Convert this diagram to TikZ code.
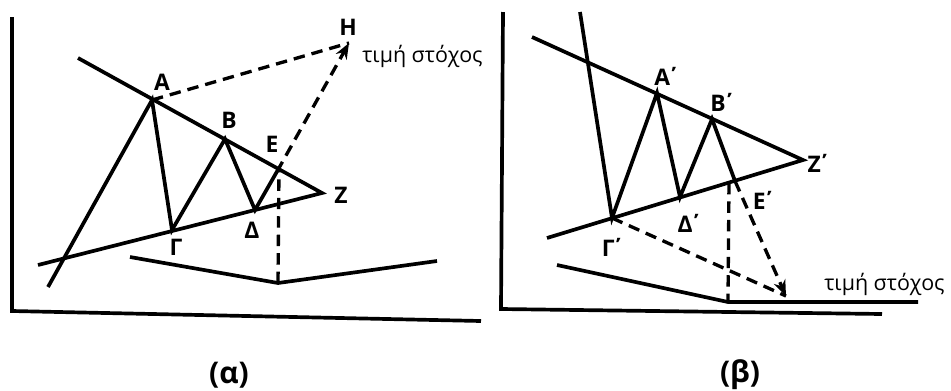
\documentclass[tikz,border=0pt]{standalone}
\usepackage{fontspec}
\setmainfont{Open Sans}
\usetikzlibrary{arrows.meta}

\begin{document}
\begin{tikzpicture}[x=0.02cm, y=-0.02cm,
    line/.style={line width=2.1pt, line join=miter},
    axis/.style={line width=2.1pt},
    proj/.style={line width=1.9pt, dash pattern=on 6.5pt off 4pt},
    tip/.style={-{Stealth[length=9pt, width=7pt]}},
    lbl/.style={font=\bfseries\fontsize{13}{15}\selectfont, inner sep=0pt},
    target/.style={font=\fontsize{12.2}{14}\selectfont, inner sep=0pt, anchor=west},
    figlabel/.style={font=\bfseries\fontsize{17}{19}\selectfont, inner sep=0pt}]
    \useasboundingbox (0,0) rectangle (951,390);

    % (a)
    \coordinate (a0) at (12,17);
    \coordinate (a1) at (12,311);
    \coordinate (a2) at (481,321);
    \draw[axis] (a0) -- (a1) -- (a2);
    \coordinate (u0) at (78,58);
    \coordinate (l0) at (38,265);
    \coordinate (s0) at (48,287);
    \coordinate (Z) at (322,193);
    \coordinate (A) at (152,100);
    \coordinate (B) at (225,139);
    \coordinate (E) at (279,168);
    \coordinate (G) at (172,230);
    \coordinate (D) at (255,210);
    \coordinate (H) at (349,43);
    \coordinate (v0) at (130,257);
    \coordinate (V) at (278,283);
    \coordinate (v1) at (437,261);
    \draw[line] (u0) -- (Z) -- (l0);
    \draw[line] (s0) -- (A) -- (G) -- (B) -- (D) -- (E);
    \draw[line] (v0) -- (V) -- (v1);
    \draw[proj] (A) -- (H);
    \draw[proj, tip] (V) -- (E) -- (H);
    \node[lbl] (lA) at (162,82) {Α};
    \node[lbl] (lB) at (229,120) {Β};
    \node[lbl] (lE) at (272,144) {Ε};
    \node[lbl] (lZ) at (341,195) {Ζ};
    \node[lbl] (lG) at (176,247) {Γ};
    \node[lbl] (lD) at (252,230) {Δ};
    \node[lbl] (lH) at (348,27) {Η};
    \node[target] (ta) at (362,56) {τιμή στόχος};
    \node[figlabel] (ca) at (229,375) {(α)};

    % (b)
    \coordinate (b0) at (503,12);
    \coordinate (b1) at (501,309);
    \coordinate (b2) at (882,314);
    \draw[axis] (b0) -- (b1) -- (b2);
    \coordinate (u1) at (532,37);
    \coordinate (l1) at (547,238);
    \coordinate (s1) at (580,12);
    \coordinate (Z1) at (803,160);
    \coordinate (A1) at (657,93);
    \coordinate (B1) at (712,119);
    \coordinate (E1) at (735,181);
    \coordinate (G1) at (612,218);
    \coordinate (D1) at (680,197);
    \coordinate (F1) at (729,183);
    \coordinate (T1) at (786,296);
    \coordinate (w0) at (557,265);
    \coordinate (V1) at (728,302);
    \coordinate (w1) at (918,302);
    \draw[line] (u1) -- (Z1) -- (l1);
    \draw[line] (s1) -- (G1) -- (A1) -- (D1) -- (B1) -- (E1);
    \draw[line] (w0) -- (V1) -- (w1);
    \draw[proj] (F1) -- (V1);
    \draw[proj] (G1) -- (T1);
    \draw[proj, tip] (E1) -- (T1);
    \node[lbl] (lA1) at (667,76) {Α\kern-2pt΄};
    \node[lbl] (lB1) at (723,102) {Β\kern-2pt΄};
    \node[lbl] (lZ1) at (819,163) {Ζ\kern-2pt΄};
    \node[lbl] (lE1) at (764,200) {Ε\kern-2pt΄};
    \node[lbl] (lD1) at (690,223) {Δ\kern-2pt΄};
    \node[lbl] (lG1) at (613,247) {Γ\kern-2pt΄};
    \node[target] (tb) at (824,284) {τιμή στόχος};
    \node[figlabel] (cb) at (740,375) {(β)};
\end{tikzpicture}
\end{document}
